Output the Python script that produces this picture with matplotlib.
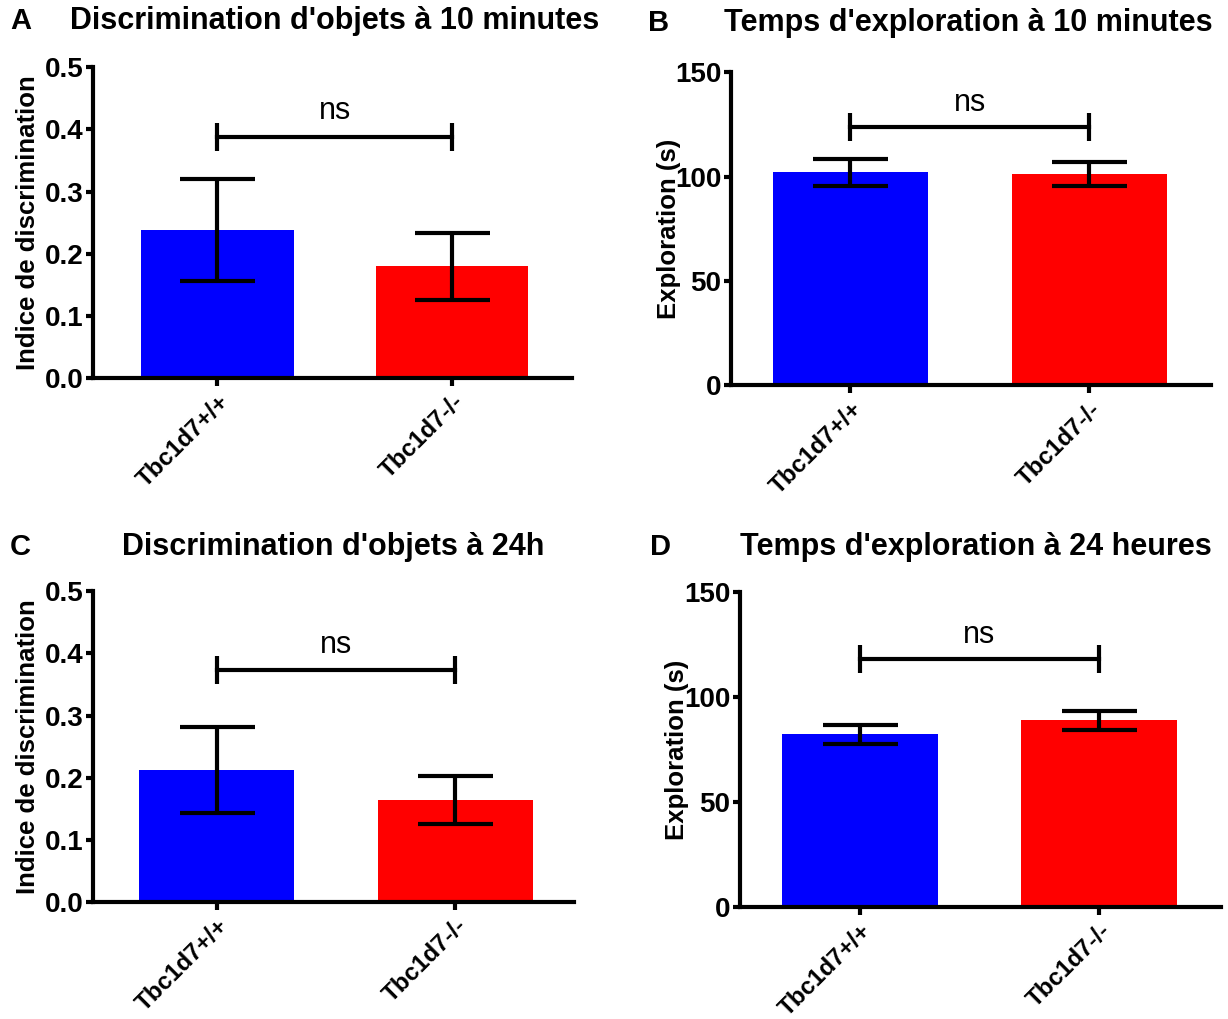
import matplotlib
matplotlib.use("Agg")
import matplotlib.pyplot as plt

plt.rcParams['font.family'] = ['Liberation Sans', 'DejaVu Sans']

# Groups and colours
genotypes = ["Tbc1d7+/+", "Tbc1d7-/-"]
bar_colors = ["#0000ff", "#ff0000"]

# Panel A - discrimination index at 10 minutes
disc_10min = [0.238, 0.180]
disc_10min_sem = [0.082, 0.054]

# Panel B - exploration time at 10 minutes (s)
explo_10min = [102.1, 101.3]
explo_10min_sem = [6.4, 5.6]

# Panel C - discrimination index at 24 h
disc_24h = [0.212, 0.164]
disc_24h_sem = [0.069, 0.039]

# Panel D - exploration time at 24 h (s)
explo_24h = [82.2, 88.9]
explo_24h_sem = [4.6, 4.4]

LW = 3.0

fig = plt.figure(figsize=(12.28, 10.19), dpi=100)


def bar_panel(rect, values, sems, ylim, yticks, yfmt, ylabel, bracket_y, ns_y, xlim, label_x):
    ax = fig.add_axes(rect)
    x = list(range(len(values)))
    ax.bar(x, values, width=0.65, color=bar_colors, zorder=1)
    ax.errorbar(x, values, yerr=sems, fmt="none", ecolor="black",
                elinewidth=LW, capsize=27, capthick=LW, zorder=2)
    # significance bracket
    ax.plot([0, 1], [bracket_y, bracket_y], color="black", lw=LW,
            marker="|", markersize=20, markeredgewidth=LW, clip_on=False)
    ax.text(0.5, ns_y, "ns", ha="center", va="bottom", fontsize=22)
    ax.set_xlim(*xlim)
    ax.set_ylim(*ylim)
    ax.set_yticks(yticks)
    ax.set_yticklabels([yfmt.format(v) for v in yticks], fontsize=20,
                       fontweight="bold")
    ax.set_xticks(x)
    ax.set_xticklabels(genotypes, rotation=45, ha="right",
                       rotation_mode="anchor", fontsize=17.5, fontweight="bold")
    ax.tick_params(axis="y", length=5, width=LW, pad=2)
    ax.tick_params(axis="x", length=6, width=LW, pad=3)
    for side in ["top", "right"]:
        ax.spines[side].set_visible(False)
    for side in ["left", "bottom"]:
        ax.spines[side].set_linewidth(LW)
    ax.set_ylabel(ylabel, fontsize=18.5, fontweight="bold")
    ax.yaxis.set_label_coords(label_x, 0.5)
    return ax


bar_panel([0.0757, 0.629, 0.390, 0.305], disc_10min, disc_10min_sem,
          (0, 0.5), [0.0, 0.1, 0.2, 0.3, 0.4, 0.5], "{:.1f}",
          "Indice de discrimination", 0.388, 0.405, (-0.53, 1.51), -0.11)
bar_panel([0.5953, 0.622, 0.391, 0.307], explo_10min, explo_10min_sem,
          (0, 150), [0, 50, 100, 150], "{:d}",
          "Exploration (s)", 123.7, 128, (-0.50, 1.51), -0.105)
bar_panel([0.0757, 0.1148, 0.392, 0.305], disc_24h, disc_24h_sem,
          (0, 0.5), [0.0, 0.1, 0.2, 0.3, 0.4, 0.5], "{:.1f}",
          "Indice de discrimination", 0.373, 0.39, (-0.52, 1.50), -0.11)
bar_panel([0.6026, 0.110, 0.392, 0.309], explo_24h, explo_24h_sem,
          (0, 150), [0, 50, 100, 150], "{:d}",
          "Exploration (s)", 118, 122.5, (-0.50, 1.51), -0.105)

# Panel titles and letters (pixel positions converted to figure fraction)
W, H = 1228, 1019
titles = [
    ("A", 10, 21, "Discrimination d'objets à 10 minutes", 335),
    ("B", 648, 23, "Temps d'exploration à 10 minutes", 968),
    ("C", 10, 547, "Discrimination d'objets à 24h", 333),
    ("D", 650, 547, "Temps d'exploration à 24 heures", 976),
]
for letter, lx, ty, title, tx in titles:
    fig.text(lx / W, 1 - ty / H, letter, fontsize=21, fontweight="bold",
             ha="left", va="center")
    fig.text(tx / W, 1 - ty / H, title, fontsize=22, fontweight="bold",
             ha="center", va="center")

fig.savefig("out.png", dpi=100)
